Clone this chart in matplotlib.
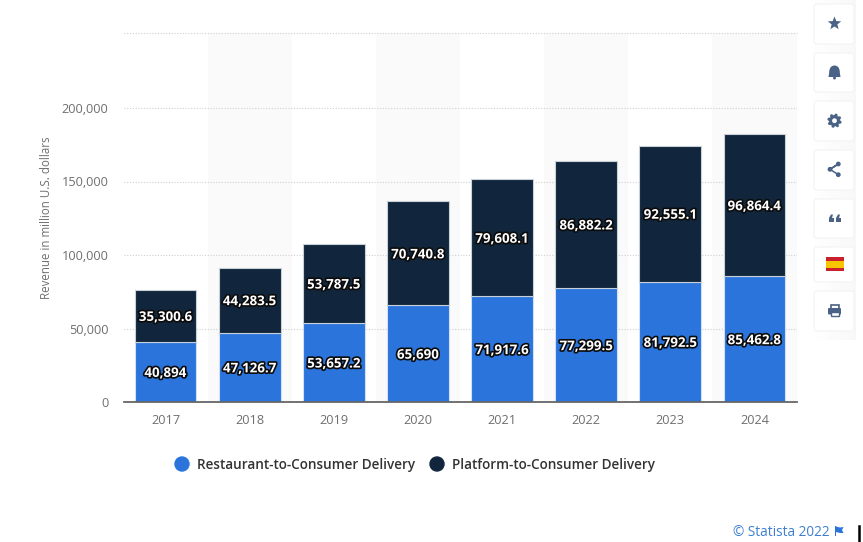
import matplotlib
matplotlib.use("Agg")
import matplotlib.pyplot as plt
import matplotlib.patheffects as pe
from matplotlib.patches import FancyBboxPatch, Rectangle, Circle, Polygon
import numpy as np

years = ["2017", "2018", "2019", "2020", "2021", "2022", "2023", "2024"]
restaurant = [40894, 47126.7, 53657.2, 65690, 71917.6, 77299.5, 81792.5, 85462.8]
platform = [35300.6, 44283.5, 53787.5, 70740.8, 79608.1, 86882.2, 92555.1, 96864.4]
restaurant_labels = ["40,894", "47,126.7", "53,657.2", "65,690", "71,917.6", "77,299.5", "81,792.5", "85,462.8"]
platform_labels = ["35,300.6", "44,283.5", "53,787.5", "70,740.8", "79,608.1", "86,882.2", "92,555.1", "96,864.4"]
yticks = [0, 50000, 100000, 150000, 200000]
ytick_labels = ["0", "50,000", "100,000", "150,000", "200,000"]

W, H = 863, 542
BLUE, NAVY = "#2a74dc", "#11263c"
plt.rcParams["font.family"] = ["Open Sans", "DejaVu Sans"]
fig = plt.figure(figsize=(W / 100, H / 100), dpi=100, facecolor="white")

ax = fig.add_axes([123.5 / W, 1 - 402 / H, (796.5 - 123.5) / W, (402 - 33) / H])
x = np.arange(len(years))
ax.set_xlim(-0.5, 7.5)
ax.set_ylim(0, 369 / (294 / 200000))
for i in x[1::2]:
    ax.axvspan(i - 0.5, i + 0.5, color="#fafafa", lw=0, zorder=0)
for v in yticks[1:]:
    ax.axhline(v, color="#cfcfcf", lw=0.8, ls=(0, (1, 1.5)), zorder=1)
ax.axhline(ax.get_ylim()[1], color="#cfcfcf", lw=0.8, ls=(0, (1, 1.5)), zorder=1, clip_on=False)

ax.bar(x, restaurant, width=0.735, color=BLUE, edgecolor="#cfe0f7", lw=0.8, zorder=3)
ax.bar(x, platform, width=0.735, bottom=restaurant, color=NAVY, edgecolor="#c8d0d8", lw=0.8, zorder=3)

effects = [pe.withStroke(linewidth=2.4, foreground="#0b0b0b")]
for i in x:
    ax.text(i, restaurant[i] / 2 - 1000, restaurant_labels[i], ha="center", va="center", color="white",
            fontsize=9.6, fontweight="bold", path_effects=effects, zorder=5)
    ax.text(i, restaurant[i] + platform[i] / 2 - 1000, platform_labels[i], ha="center", va="center", color="white",
            fontsize=9.6, fontweight="bold", path_effects=effects, zorder=5)

for s in ["top", "left", "right"]:
    ax.spines[s].set_visible(False)
ax.spines["bottom"].set_color("#666666")
ax.spines["bottom"].set_linewidth(1.3)
ax.spines["bottom"].set_zorder(6)
ax.set_xticks(x, years)
ax.set_yticks(yticks, ytick_labels)
ax.tick_params(axis="both", length=0, labelsize=9.2, labelcolor="#6f6f6f")
ax.tick_params(axis="x", pad=9)
ax.tick_params(axis="y", pad=11)
ax.set_ylabel("Revenue in million U.S. dollars", fontsize=8.3, color="#6f6f6f")
ax.yaxis.set_label_coords((53 - 124) / (797 - 124), (402 - 218) / 369)

# pixel overlay for legend, footer and side buttons
ov = fig.add_axes([0, 0, 1, 1], facecolor="none")
ov.axis("off")
grad = np.linspace(1.0, 0.972, 48)[None, :]
ov.imshow(grad, extent=(808, 856, 340, 0), cmap="gray", vmin=0, vmax=1, aspect="auto", zorder=0)
ov.set_xlim(0, W)
ov.set_ylim(H, 0)
ov.add_patch(Circle((182, 464), 7, color=BLUE))
ov.text(197, 464.5, "Restaurant-to-Consumer Delivery", fontsize=9.75, fontweight="semibold", color="#333333", va="center")
ov.add_patch(Circle((437, 464), 7, color=NAVY))
ov.text(452, 464.5, "Platform-to-Consumer Delivery", fontsize=9.75, fontweight="semibold", color="#333333", va="center")
ov.text(733, 532, "© Statista 2022", fontsize=9.8, color="#3f7fd0", va="center")
ov.add_patch(Rectangle((835, 526), 1.4, 10, color="#2a74dc", lw=0))
ov.add_patch(Polygon([(836, 526.5), (840, 527.5), (843.5, 527), (842, 530), (843.5, 533), (840, 533), (836, 532)], color="#2a74dc", lw=0))
ov.plot([858.7, 858.7], [526, 542], color="black", lw=1.8)

ICON = "#4a6285"
tops = [4, 53, 101, 150, 199, 247, 291]
bottoms = [44, 92, 141, 190, 238, 282, 331]
for t, b in zip(tops, bottoms):
    ov.add_patch(FancyBboxPatch((817, t + 3), 34, b - t - 6, boxstyle="round,pad=3", fc="white", ec="#f3f3f6", lw=0.8, zorder=1))
cx = 834.5
# star
ang = np.deg2rad(-90 + 36 * np.arange(10))
rad = np.where(np.arange(10) % 2 == 0, 7, 3)
ov.add_patch(Polygon(np.c_[cx + rad * np.cos(ang), 23.5 + rad * np.sin(ang)], color=ICON, lw=0, zorder=2))
# bell
ov.add_patch(Circle((cx, 70.5), 5, color=ICON, lw=0, zorder=2))
ov.add_patch(Polygon([(cx - 5, 70.5), (cx + 5, 70.5), (cx + 6, 77), (cx - 6, 77)], color=ICON, lw=0, zorder=2))
ov.add_patch(Circle((cx, 78), 1.5, color=ICON, lw=0, zorder=2))
# gear
ang = np.deg2rad(np.arange(0, 360, 15) + 7.5)
rad = np.where(np.arange(24) % 3 == 2, 5.3, 7.2)
ov.add_patch(Polygon(np.c_[cx + rad * np.cos(ang), 120.7 + rad * np.sin(ang)], color=ICON, lw=0, zorder=2))
ov.add_patch(Circle((cx, 120.7), 2.4, color="white", lw=0, zorder=3))
# share
for px, py in [(830, 169.3), (838.3, 164), (838.3, 174.7)]:
    ov.add_patch(Circle((px, py), 2.4, color=ICON, lw=0, zorder=2))
ov.plot([830, 838.3, 830, 838.3], [169.3, 164, 169.3, 174.7], color=ICON, lw=1.1, zorder=2)
# quotes
for q in [829, 836]:
    ov.add_patch(Polygon([(q, 218), (q + 2, 214.5), (q + 4, 214.5), (q + 3, 218), (q + 5, 218), (q + 5, 222), (q, 222)], color=ICON, lw=0, zorder=2))
# flag
ov.add_patch(Rectangle((825.7, 257.3), 18, 13.7, color="#c8202c", lw=0, zorder=2))
ov.add_patch(Rectangle((825.7, 260.8), 18, 6.7, color="#f7c400", lw=0, zorder=2))
# printer
ov.add_patch(Rectangle((830.5, 304.5), 8, 5, fc="white", ec=ICON, lw=1.2, zorder=2))
ov.add_patch(FancyBboxPatch((829, 309), 11, 4.5, boxstyle="round,pad=1", color=ICON, lw=0, zorder=2))
ov.add_patch(Rectangle((830.5, 312), 8, 4.2, fc="white", ec=ICON, lw=1, zorder=3))

fig.savefig("out.png", dpi=100)
